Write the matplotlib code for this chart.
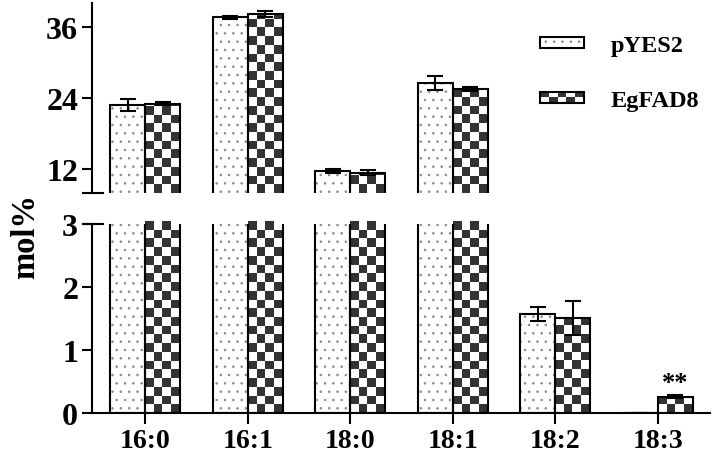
import numpy as np
import matplotlib
matplotlib.use("Agg")
import matplotlib.pyplot as plt
from matplotlib.colors import ListedColormap
from matplotlib.legend_handler import HandlerBase, HandlerTuple
from matplotlib.patches import Rectangle

categories = ["16:0", "16:1", "18:0", "18:1", "18:2", "18:3"]
series_names = ["pYES2", "EgFAD8"]
pyes2 = [22.8, 37.6, 11.7, 26.5, 1.57, 0.0]
pyes2_err = [1.0, 0.3, 0.3, 1.2, 0.11, 0.0]
egfad8 = [23.0, 38.2, 11.4, 25.5, 1.51, 0.26]
egfad8_err = [0.25, 0.45, 0.45, 0.4, 0.27, 0.02]
signif = ["", "", "", "", "", "**"]

top_ticks = [12, 24, 36]
bottom_ticks = [0, 1, 2, 3]

plt.rcParams["font.family"] = ["Liberation Serif", "DejaVu Serif"]
plt.rcParams["font.weight"] = "bold"
plt.rcParams["hatch.linewidth"] = 0.6

DARK = "#333333"
DOT = "#8a8a8a"
SQ = 8.7  # checker square size in pixels
W = 0.34

fig = plt.figure(figsize=(7.14, 4.60), dpi=100)
ax_top = fig.add_axes([0.1289, 0.579, 0.8655, 0.4117])
ax_bot = fig.add_axes([0.1289, 0.100, 0.8655, 0.4109])

x = np.arange(len(categories))


def add_checker(ax, bar):
    x0, x1 = bar.get_x(), bar.get_x() + bar.get_width()
    ylo, yhi = ax.get_ylim()
    lo = max(ylo, 0)
    hi = min(bar.get_height(), yhi)
    if hi <= lo:
        return
    (px0, py0), (px1, py1) = ax.transData.transform([(x0, lo), (x1, hi)])
    ncol = max(1, int(round((px1 - px0) / SQ)))
    nrow = int(np.ceil((py1 - py0) / SQ))
    top = ax.transData.inverted().transform((px0, py0 + nrow * SQ))[1]
    grid = np.add.outer(np.arange(nrow), np.arange(ncol)) % 2
    im = ax.imshow(grid, cmap=ListedColormap(["white", DARK]), extent=(x0, x1, lo, top),
                   origin="lower", aspect="auto", interpolation="nearest", zorder=1.5)
    im.set_clip_path(bar)


def draw(ax, ylim):
    ax.set_xlim(-0.52, 5.51)
    ax.set_ylim(*ylim)
    ax.bar(x - W / 2, pyes2, W, facecolor="white", edgecolor=DOT, linewidth=0,
           hatch="..", zorder=1.5)
    ax.bar(x - W / 2, pyes2, W, facecolor="none", edgecolor="black", linewidth=1.5, zorder=2)
    eg = ax.bar(x + W / 2, egfad8, W, facecolor="none", edgecolor="black", linewidth=1.5, zorder=2)
    for b in eg:
        add_checker(ax, b)
    ax.errorbar(x - W / 2, pyes2, yerr=pyes2_err, fmt="none", ecolor="black",
                elinewidth=1.5, capsize=6, capthick=1.5, zorder=3)
    ax.errorbar(x + W / 2, egfad8, yerr=egfad8_err, fmt="none", ecolor="black",
                elinewidth=1.5, capsize=6, capthick=1.5, zorder=3)
    ax.set_xlim(-0.52, 5.51)
    ax.set_ylim(*ylim)
    for s in ["top", "right"]:
        ax.spines[s].set_visible(False)
    ax.spines["left"].set_linewidth(1.5)
    ax.spines["bottom"].set_linewidth(1.5)
    ax.tick_params(axis="y", direction="out", length=7, width=1.5, labelsize=23, pad=3)


draw(ax_top, (8, 40))
draw(ax_bot, (0, 3))

ax_top.spines["bottom"].set_visible(False)
ax_top.set_xticks([])
ax_top.set_yticks(top_ticks)
ax_bot.set_yticks(bottom_ticks)
ax_bot.set_xticks(x, categories)
ax_bot.tick_params(axis="x", direction="out", length=8, width=1.5, labelsize=20, pad=3)

# axis break marks
ax_top.plot([-0.015, 0.018], [0, 0], color="black", lw=1.5, transform=ax_top.transAxes,
            clip_on=False)
ax_bot.plot([-0.015, 0.018], [1, 1], color="black", lw=1.5, transform=ax_bot.transAxes,
            clip_on=False)

for xi, v, e, s in zip(x, egfad8, egfad8_err, signif):
    if s:
        ax_bot.text(xi + W / 2, v + e + 0.02, s, ha="center", va="bottom", fontsize=19,
                    fontweight="bold")

fig.text(0.036, 0.485, "mol%", rotation=90, ha="center", va="center", fontsize=23.5,
         fontweight="bold")


class CheckerPatch(Rectangle):
    pass


class CheckerHandler(HandlerBase):
    def create_artists(self, legend, orig_handle, xdescent, ydescent, width, height,
                       fontsize, trans):
        arts = []
        nc, nr = 5, 2
        w, h = width / nc, height / nr
        for i in range(nc):
            for j in range(nr):
                if (i + j) % 2 == 1:
                    arts.append(Rectangle((-xdescent + i * w, -ydescent + j * h), w, h,
                                          facecolor=DARK, edgecolor="none", transform=trans))
        arts.append(Rectangle((-xdescent, -ydescent), width, height, facecolor="none",
                              edgecolor="black", lw=1.5, transform=trans))
        return arts


dot_h = (Rectangle((0, 0), 1, 1, facecolor="white", edgecolor=DOT, lw=0, hatch=".."),
         Rectangle((0, 0), 1, 1, facecolor="none", edgecolor="black", lw=1.5))
chk_h = CheckerPatch((0, 0), 1, 1)
fig.legend([dot_h, chk_h], series_names, loc="upper left",
           bbox_to_anchor=(540 / 714, 1 - 36 / 460), bbox_transform=fig.transFigure,
           frameon=False, fontsize=17.5, handlelength=1.8, handleheight=0.3,
           handletextpad=1.1, labelspacing=1.4, borderpad=0, borderaxespad=0,
           handler_map={tuple: HandlerTuple(ndivide=1), CheckerPatch: CheckerHandler()})

fig.savefig("out.png", dpi=100)
